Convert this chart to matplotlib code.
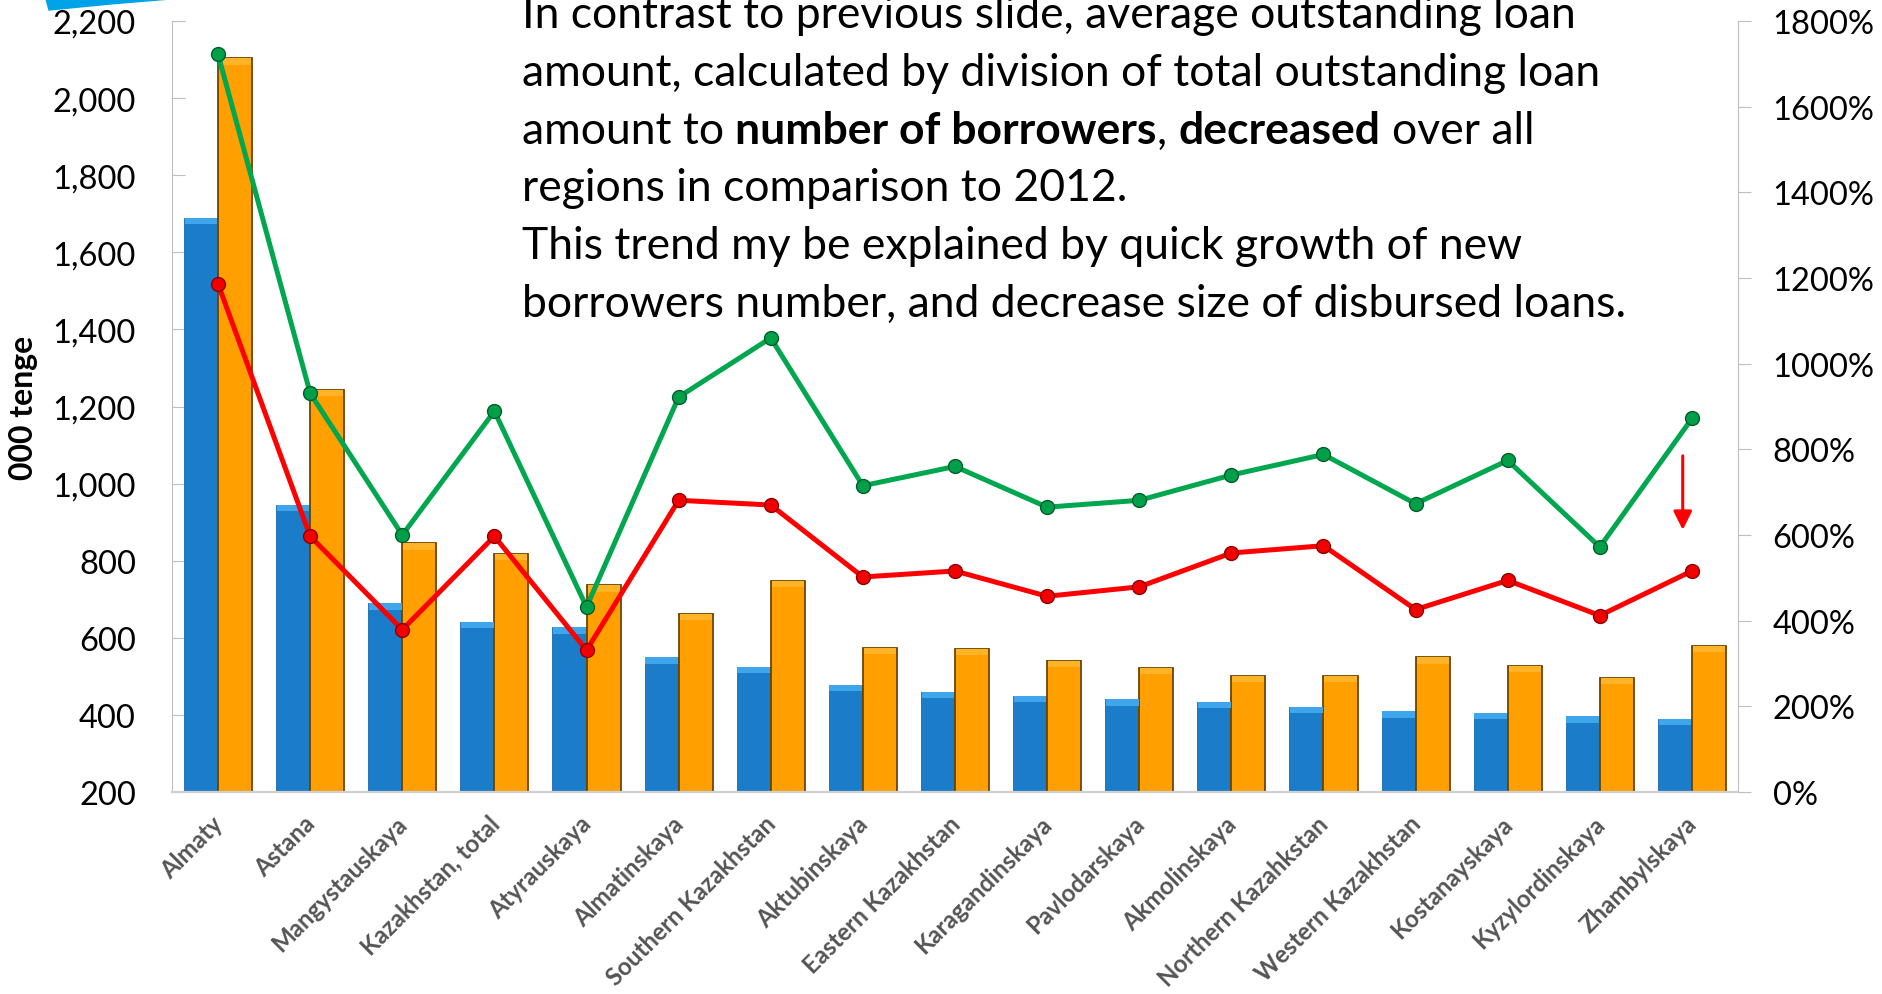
import matplotlib
matplotlib.use('Agg')
import matplotlib.pyplot as plt
import numpy as np
from matplotlib.patches import Polygon
from matplotlib.transforms import ScaledTranslation

plt.rcParams['font.family'] = ['Lato', 'DejaVu Sans']

categories = ['Almaty', 'Astana', 'Mangystauskaya', 'Kazakhstan, total', 'Atyrauskaya',
              'Almatinskaya', 'Southern Kazakhstan', 'Aktubinskaya', 'Eastern Kazakhstan',
              'Karagandinskaya', 'Pavlodarskaya', 'Akmolinskaya', 'Northern Kazahkstan',
              'Western Kazakhstan', 'Kostanayskaya', 'Kyzylordinskaya', 'Zhambylskaya']
avg_loan_blue = [1690, 944, 689, 642, 627, 549, 524, 477, 459, 449, 440, 434, 421, 409, 406, 396, 390]
avg_loan_orange = [2103, 1244, 845, 817, 736, 661, 748, 574, 571, 540, 521, 502, 502, 549, 527, 496, 580]
growth_green = [1722, 931, 600, 889, 432, 922, 1060, 715, 760, 665, 681, 740, 788, 673, 774, 572, 872]
growth_red = [1186, 597, 379, 597, 331, 681, 670, 502, 516, 457, 479, 558, 575, 426, 494, 412, 516]
left_ticks = [200, 400, 600, 800, 1000, 1200, 1400, 1600, 1800, 2000, 2200]
right_ticks = [0, 200, 400, 600, 800, 1000, 1200, 1400, 1600, 1800]

W, H = 1883, 995
fig = plt.figure(figsize=(W / 100, H / 100), dpi=100)
ax = fig.add_axes([172 / W, 1 - 793 / H, (1738 - 172) / W, (793 - 22) / H])

x = np.arange(len(categories))
bw = 0.37
blue = np.array(avg_loan_blue, dtype=float)
orange = np.array(avg_loan_orange, dtype=float)
bev = 16

ax.bar(x - bw / 2, blue, width=bw, color='#1B7DC9', edgecolor='#1868AE', linewidth=0.6, zorder=2)
ax.bar(x - bw / 2, bev, bottom=blue - bev, width=bw * 0.96, color='#3FA6EC', linewidth=0, zorder=3)
ax.bar(x + bw / 2, orange, width=bw, color='#FFA000', edgecolor='#6B4300', linewidth=1.3, zorder=2)
ax.bar(x + bw / 2, bev, bottom=orange - bev, width=bw * 0.94, color='#FFB428', linewidth=0, zorder=3)

ax.set_xlim(-0.5, len(categories) - 0.5)
ax.set_ylim(200, 2200)
ax.set_yticks(left_ticks)
ax.set_yticklabels([f'{v:,}' for v in left_ticks])
ax.tick_params(axis='y', direction='in', length=9, color='#BFBFBF', labelsize=23.5, pad=26)
ax.set_xticks(x)
ax.set_xticklabels(categories, rotation=45, ha='right', va='top', rotation_mode='anchor',
                   fontweight='bold', color='#555555', fontsize=17.3)
ax.tick_params(axis='x', length=0, pad=14)
for lbl in ax.get_xticklabels():
    lbl.set_transform(lbl.get_transform() + ScaledTranslation(-0.07, 0, fig.dpi_scale_trans))
for s in ['top', 'right']:
    ax.spines[s].set_visible(False)
ax.spines['left'].set_color('#BFBFBF')
ax.spines['bottom'].set_color('#D0D0D0')
ax.spines['bottom'].set_linewidth(1.6)

ax2 = ax.twinx()
ax2.set_ylim(0, 1800)
ax2.set_yticks(right_ticks)
ax2.set_yticklabels([f'{v}%' for v in right_ticks])
ax2.tick_params(axis='y', direction='out', length=9, color='#BFBFBF', labelsize=23.5, pad=16)
for s in ['top', 'left', 'bottom']:
    ax2.spines[s].set_visible(False)
ax2.spines['right'].set_color('#BFBFBF')
ax2.plot(x, growth_green, color='#00A74E', lw=3.6, marker='o', markersize=10,
         markerfacecolor='#00A04A', markeredgecolor='#005E2B', markeredgewidth=1, zorder=5)
ax2.plot(x, growth_red, color='#FF0000', lw=3.6, marker='o', markersize=10,
         markerfacecolor='#F00000', markeredgecolor='#900000', markeredgewidth=1, zorder=5)

ax.annotate('', xy=(15.9, 880), xytext=(15.9, 1072),
            arrowprops=dict(arrowstyle='-|>', color='#FF0000', lw=2.2, mutation_scale=28,
                            shrinkA=0, shrinkB=0), zorder=6)
ax.set_zorder(1)
ax2.set_zorder(2)
ax.patch.set_visible(False)

fig.text(24 / W, 1 - 408 / H, '000 tenge', rotation=90, ha='center', va='center',
         fontweight='bold', fontsize=23)

# decorative swoosh at top-left
fig.patches.append(Polygon([(46 / W, 1), (49 / W, 1 - 11 / H), (110 / W, 1 - 5 / H), (170 / W, 1)],
                           closed=True, transform=fig.transFigure, color='#00A3E8'))

# annotation text
fs = 32
renderer = fig.canvas.get_renderer()


def tw(s, **kw):
    t = fig.text(0, 0, s, fontsize=fs, **kw)
    w = t.get_window_extent(renderer).width
    t.remove()
    return w


lines = [
    [('In contrast to previous slide, average outstanding loan', 'normal')],
    [('amount, calculated by division of total outstanding loan', 'normal')],
    [('amount to', 'normal'), ('number of borrowers', 'bold'), (',', 'normal'),
     ('decreased', 'bold'), ('over all', 'normal')],
    [('regions in comparison to 2012.', 'normal')],
    [('This trend my be explained by quick growth of new', 'normal')],
    [('borrowers number, and decrease size of disbursed loans.', 'normal')],
]
space = tw('a a') - tw('aa')
x0 = 522
for i, pieces in enumerate(lines):
    yb = 28 + 57.8 * i
    xc = x0
    for j, (txt, wt) in enumerate(pieces):
        if j > 0 and txt != ',':
            xc += space
        fig.text(xc / W, 1 - yb / H, txt, fontsize=fs, fontweight=wt, ha='left', va='baseline')
        xc += tw(txt, fontweight=wt)

fig.savefig('out.png', dpi=100)
